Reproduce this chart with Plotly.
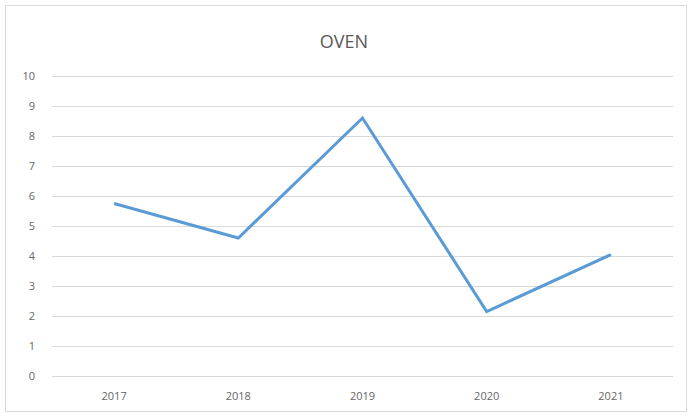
import plotly.graph_objects as go

years = ["2017", "2018", "2019", "2020", "2021"]
oven = [5.75, 4.6, 8.6, 2.15, 4.05]
y_ticks = list(range(0, 11))

W, H = 688, 416
ML, MR, MT, MB = 52, 15, 75, 40
pw, ph = W - ML - MR, H - MT - MB

def px_x(x):
    return (x - ML) / pw

def px_y(y):
    return (H - MB - y) / ph

fig = go.Figure()
fig.add_trace(go.Scatter(
    x=years, y=oven, mode="lines",
    line=dict(color="#5B9BD5", width=3),
    hoverinfo="x+y",
))

fig.update_layout(
    width=W, height=H,
    margin=dict(l=ML, r=MR, t=MT, b=MB),
    paper_bgcolor="white", plot_bgcolor="white",
    showlegend=False,
    font=dict(family="Open Sans, Liberation Sans, sans-serif", color="#595959"),
    title=dict(text="OVEN", x=0.5, xanchor="center", y=1 - 42 / H, yanchor="middle",
               font=dict(size=18, color="#595959")),
    shapes=[dict(type="rect", xref="paper", yref="paper",
                 x0=px_x(5.5), x1=px_x(686.5), y0=px_y(411.5), y1=px_y(5.5),
                 line=dict(color="#d9d9d9", width=1), layer="below")],
)
fig.update_xaxes(
    type="category", range=[-0.5, 4.5],
    showgrid=False, showline=False, zeroline=False,
    ticks="", tickfont=dict(size=11, color="#666666"),
    ticklabelstandoff=12,
)
fig.update_yaxes(
    range=[0, 10.035], tickvals=y_ticks,
    showgrid=True, gridcolor="#d9d9d9", gridwidth=1,
    zeroline=True, zerolinecolor="#d9d9d9", zerolinewidth=1,
    showline=False, ticks="", tickfont=dict(size=11, color="#666666"),
    ticklabelstandoff=16,
)

fig.write_html("out.html")
